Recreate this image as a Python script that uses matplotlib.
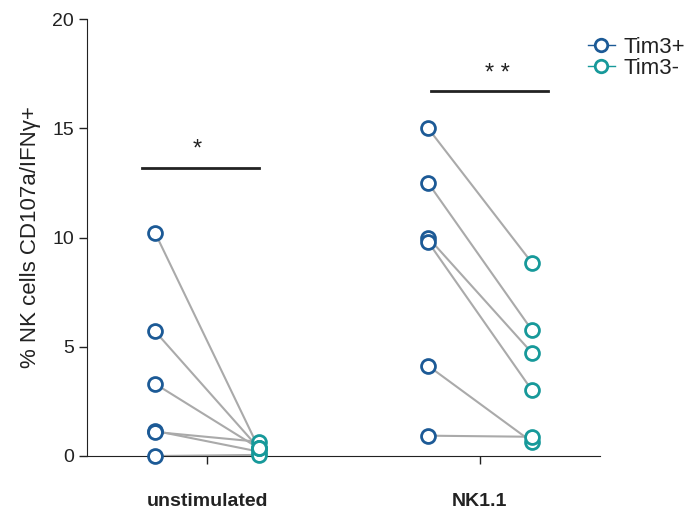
import matplotlib
matplotlib.use("Agg")
import matplotlib.pyplot as plt
from matplotlib.lines import Line2D

plt.rcParams['font.family'] = ['Liberation Sans', 'DejaVu Sans']

categories = ["unstimulated", "NK1.1"]
unstim_tim3_pos = [1.15, 1.1, 0.0, 10.2, 5.7, 3.3]
unstim_tim3_neg = [0.2, 0.65, 0.05, 0.35, 0.35, 0.35]
nk_tim3_pos = [15.0, 12.5, 10.0, 9.8, 4.13, 0.93]
nk_tim3_neg = [8.85, 5.77, 4.73, 3.02, 0.65, 0.88]
sig_labels = ["*", "* *"]
sig_heights = [13.2, 16.7]
yticks = [0, 5, 10, 15, 20]

c_pos = "#1c5a96"
c_neg = "#17999a"
c_line = "#aaaaaa"

fig = plt.figure(figsize=(6.92, 5.15), dpi=100)
ax = fig.add_axes([87/692, (515-456)/515, (600-87)/692, (456-19)/515])

off = 0.19
data = [(unstim_tim3_pos, unstim_tim3_neg), (nk_tim3_pos, nk_tim3_neg)]
for i, (pos, neg) in enumerate(data):
    for a, b in zip(pos, neg):
        ax.plot([i - off, i + off], [a, b], color=c_line, lw=1.5, zorder=1)
    ax.plot([i - off] * len(pos), pos, 'o', ms=10, mfc='white', mec=c_pos, mew=2, zorder=3, clip_on=False)
    for v in neg:
        ax.plot([i + off], [v], 'o', ms=10, mfc='white', mec=c_neg, mew=2, zorder=3, clip_on=False)

# significance bars
bar_x = [(-0.24, 0.19), (-0.18, 0.25)]
for i, ((x0, x1), h, lab) in enumerate(zip(bar_x, sig_heights, sig_labels)):
    ax.plot([i + x0, i + x1], [h, h], color='#222222', lw=2)
    ax.text(i + (x0 + x1) / 2 - 0.01 + (0.04 if i == 1 else 0), h + 0.3, lab, ha='center', va='bottom',
            fontsize=17, color='#222222')

ax.set_xlim(-0.44, 1.44)
ax.set_ylim(0, 20)
ax.set_yticks(yticks)
ax.set_xticks([0, 1])
ax.set_xticklabels(categories, fontsize=14, fontweight='bold')
ax.tick_params(axis='y', labelsize=14, length=6, width=1, colors='#222222')
ax.tick_params(axis='x', length=6, width=1, pad=21, colors='#222222')
for lab in ax.get_xticklabels() + ax.get_yticklabels():
    lab.set_color('#222222')
for s in ['top', 'right']:
    ax.spines[s].set_visible(False)
for s in ['left', 'bottom']:
    ax.spines[s].set_color('#222222')
ax.set_ylabel("% NK cells CD107a/IFN\u03b3+", fontsize=16, labelpad=8, color='#222222')

handles = [
    Line2D([0], [0], color=c_pos, marker='o', mfc='white', mec=c_pos, mew=2, ms=9, lw=1),
    Line2D([0], [0], color=c_neg, marker='o', mfc='white', mec=c_neg, mew=2, ms=9, lw=1),
]
fig.legend(handles, ["Tim3+", "Tim3-"], loc='upper left', bbox_to_anchor=(579/692, 1 - 28/515),
           frameon=False, fontsize=16, handlelength=1.2, handletextpad=0.4, labelspacing=0.0, borderaxespad=0,
           labelcolor='#222222')

fig.savefig("out.png", dpi=100)
